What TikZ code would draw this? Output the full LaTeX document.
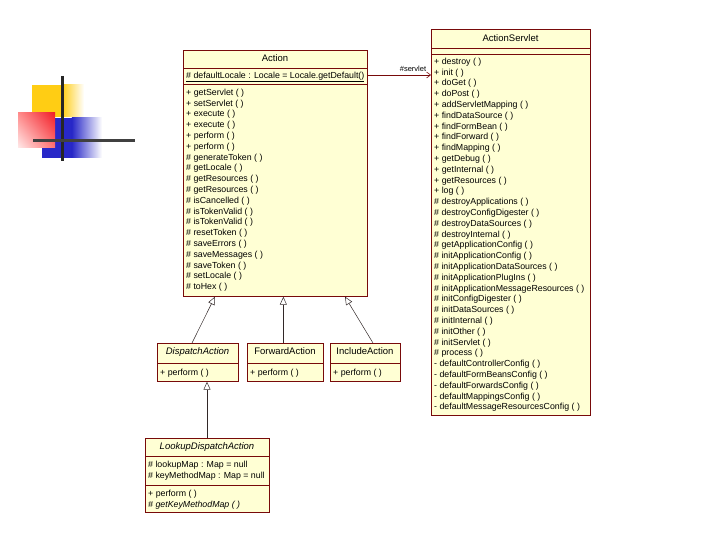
\documentclass[tikz,border=0pt]{standalone}
\usepackage{fontspec}
\setmainfont{Liberation Sans}
\usetikzlibrary{arrows.meta,shadings}
\definecolor{boxfill}{RGB}{255,255,212}
\definecolor{boxline}{RGB}{120,10,10}
\definecolor{genline}{RGB}{50,40,40}
\definecolor{decoyellow}{RGB}{255,205,20}
\definecolor{decored}{RGB}{240,30,40}
\definecolor{decoblue}{RGB}{40,40,200}
\tikzset{
  classbox/.style={draw=boxline, fill=boxfill, line width=0.7pt, anchor=north west, inner sep=0pt},
  member/.style={anchor=west, inner sep=0pt, font=\fontsize{8.8}{10}\selectfont, text height=6.3pt, text depth=1.8pt},
  ctitle/.style={inner sep=0pt, font=\fontsize{9.5}{11}\selectfont, text height=6.8pt, text depth=1.8pt},
  sepline/.style={draw=boxline, line width=0.6pt},
  gen/.style={draw=genline, line width=0.5pt, -{Triangle[open, length=8pt, width=7pt]}},
  assoc/.style={draw=boxline, line width=0.6pt, -{Straight Barb[length=4pt, width=6pt]}},
  decoline/.style={line width=3pt},
}
\begin{document}
\begin{tikzpicture}[x=1pt,y=-1pt]
\useasboundingbox (0,0) rectangle (720,540);
\fill[white] (0,0) rectangle (720,540);

% decoration
\fill[decoyellow] (32,85) rectangle (62,117);
\shade[left color=decoyellow, right color=white] (61.8,85) rectangle (84,117);
\fill[decoblue] (42,118) rectangle (72,158);
\shade[left color=decoblue, right color=white] (71.8,118) rectangle (102,158);
\shade[upper right=decored, lower left=red!8, upper left=red!45, lower right=red!55] (18,113) rectangle (55,148);
\draw[decoline, black!85] (62,76) -- (62,161);
\draw[decoline, black!75] (33,141) -- (135,141);

% Action
\node[classbox, minimum width=184pt, minimum height=246pt] (action) at (183,50) {};
\node[ctitle] (actiont) at (275,59) {Action};
\draw[sepline] (183,68) -- (367,68);
\node[member] (actiona) at (186,76) {\underline{\# defaultLocale : Locale = Locale.getDefault()}};
\draw[sepline] (183,84) -- (367,84);
\foreach \t [count=\i] in {+ getServlet ( ), + setServlet ( ), + execute ( ), + execute ( ), + perform ( ), + perform ( ), \# generateToken ( ), \# getLocale ( ), \# getResources ( ), \# getResources ( ), \# isCancelled ( ), \# isTokenValid ( ), \# isTokenValid ( ), \# resetToken ( ), \# saveErrors ( ), \# saveMessages ( ), \# saveToken ( ), \# setLocale ( ), \# toHex ( )}
  \node[member] (am\i) at (186,{93+(\i-1)*10.8}) {\t};

% ActionServlet
\node[classbox, minimum width=159pt, minimum height=386pt] (servlet) at (431,29) {};
\node[ctitle] (servlett) at (510.5,39) {ActionServlet};
\draw[sepline] (431,48) -- (590,48);
\draw[sepline] (431,54) -- (590,54);
\foreach \t [count=\i] in {+ destroy ( ), + init ( ), + doGet ( ), + doPost ( ), + addServletMapping ( ), + findDataSource ( ), + findFormBean ( ), + findForward ( ), + findMapping ( ), + getDebug ( ), + getInternal ( ), + getResources ( ), + log ( ), \# destroyApplications ( ), \# destroyConfigDigester ( ), \# destroyDataSources ( ), \# destroyInternal ( ), \# getApplicationConfig ( ), \# initApplicationConfig ( ), \# initApplicationDataSources ( ), \# initApplicationPlugIns ( ), \# initApplicationMessageResources ( ), \# initConfigDigester ( ), \# initDataSources ( ), \# initInternal ( ), \# initOther ( ), \# initServlet ( ), \# process ( ), - defaultControllerConfig ( ), - defaultFormBeansConfig ( ), - defaultForwardsConfig ( ), - defaultMappingsConfig ( ), - defaultMessageResourcesConfig ( )}
  \node[member] (sm\i) at (434,{62+(\i-1)*10.8}) {\t};

% DispatchAction
\node[classbox, minimum width=81pt, minimum height=38pt] (dispatch) at (157,343) {};
\node[ctitle] (dispatcht) at (197.5,352) {\itshape DispatchAction};
\draw[sepline] (157,363) -- (238,363);
\node[member] (dispatchm) at (160,373) {+ perform ( )};

% ForwardAction
\node[classbox, minimum width=76pt, minimum height=38pt] (forward) at (247,343) {};
\node[ctitle] (forwardt) at (285,352) {ForwardAction};
\draw[sepline] (247,363) -- (323,363);
\node[member] (forwardm) at (250,373) {+ perform ( )};

% IncludeAction
\node[classbox, minimum width=70pt, minimum height=38pt] (include) at (330,343) {};
\node[ctitle] (includet) at (365,352) {IncludeAction};
\draw[sepline] (330,363) -- (400,363);
\node[member] (includem) at (333,373) {+ perform ( )};

% LookupDispatchAction
\node[classbox, minimum width=124pt, minimum height=74pt] (lookup) at (145,438) {};
\node[ctitle] (lookupt) at (207,447) {\itshape LookupDispatchAction};
\draw[sepline] (145,456) -- (269,456);
\node[member] (lookupa1) at (148,465) {\# lookupMap : Map = null};
\node[member] (lookupa2) at (148,476) {\# keyMethodMap : Map = null};
\draw[sepline] (145,485) -- (269,485);
\node[member] (lookupm1) at (148,494) {+ perform ( )};
\node[member] (lookupm2) at (148,505) {\itshape \# getKeyMethodMap ( )};

% connectors
\coordinate (ay) at (0,75);
\draw[assoc] (action.east |- ay) -- (servlet.west |- ay);
\node[inner sep=0pt, font=\fontsize{7.5}{9}\selectfont] (assoclabel) at (413,69) {\#servlet};
\draw[gen] ([xshift=35pt]dispatch.north west) -- ([xshift=32pt]action.south west);
\draw[gen] ([xshift=-2pt]forward.north) -- ([xshift=-2pt]forward.north |- action.south);
\draw[gen] ([xshift=43pt]include.north west) -- ([xshift=162pt]action.south west);
\draw[gen] ([xshift=62pt]lookup.north west) -- ([xshift=50pt]dispatch.south west);
\end{tikzpicture}
\end{document}
